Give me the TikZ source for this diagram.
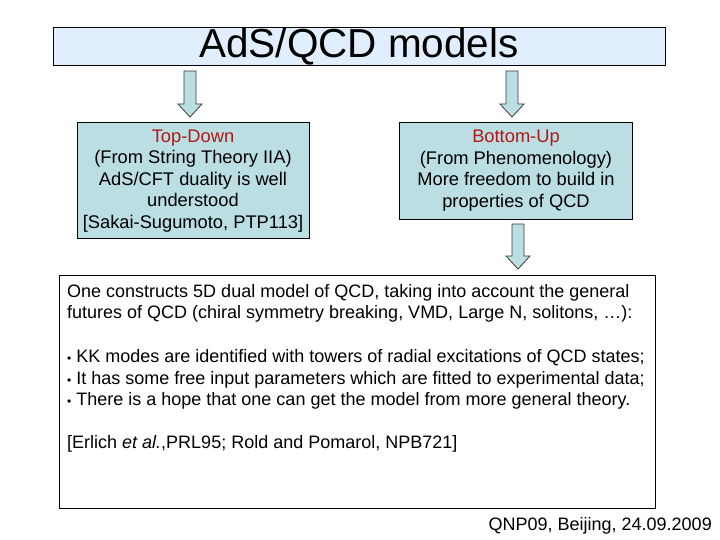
\documentclass[tikz,border=0pt]{standalone}
\usepackage{fontspec}
\setmainfont{Liberation Sans}
\definecolor{titlefill}{RGB}{224,238,254}
\definecolor{boxfill}{RGB}{186,222,226}
\definecolor{headred}{RGB}{178,24,24}
\definecolor{arrowline}{RGB}{60,60,60}
\tikzset{
  bodyfont/.style={font=\fontsize{18.3}{21.6}\selectfont},
  mainfont/.style={font=\fontsize{18}{21.6}\selectfont},
  tealbox/.style={draw=black, line width=1pt, fill=boxfill, inner sep=0pt, anchor=north west},
  blockarrow/.style={draw=arrowline, line width=0.8pt, fill=boxfill, line join=miter},
}
\newcommand{\mybul}{{\fontsize{12}{12}\selectfont\textbullet}}
\begin{document}
\begin{tikzpicture}[x=1pt,y=-1pt]
\useasboundingbox (0,0) rectangle (720,540);
% title
\node[draw=black, line width=1pt, fill=titlefill, anchor=north west, minimum width=612pt, minimum height=38pt, inner sep=0pt] (title) at (53,27) {};
\node[font=\fontsize{40.5}{44}\selectfont] (titletext) at (359,47) {AdS/QCD models};
% boxes
\node[tealbox, minimum width=232pt, minimum height=116pt] (left) at (77,122) {};
\node[bodyfont, align=center] (lefttext) at (193,181) {\textcolor{headred}{Top-Down}\\(From String Theory IIA)\\AdS/CFT duality is well\\understood\\{[}Sakai-Sugumoto, PTP113{]}};
\node[tealbox, minimum width=233pt, minimum height=97pt] (right) at (399,122) {};
\node[bodyfont, align=center] (righttext) at (516,170.5) {\textcolor{headred}{Bottom-Up}\\(From Phenomenology)\\More freedom to build in\\properties of QCD};
% big box
\node[draw=black, line width=1pt, fill=white, anchor=north west, minimum width=596pt, minimum height=233pt, inner sep=0pt] (main) at (59,275) {};
\node[mainfont, align=left, anchor=north west, inner sep=0pt] (maintext) at (67,284) {One constructs 5D dual model of QCD, taking into account the general\\futures of QCD (chiral symmetry breaking, VMD, Large N, solitons, \ldots):\\[22pt]%
\mybul\ KK modes are identified with towers of radial excitations of QCD states;\\
\mybul\ It has some free input parameters which are fitted to experimental data;\\
\mybul\ There is a hope that one can get the model from more general theory.\\[21pt]%
{[}Erlich \textit{et al.},PRL95; Rold and Pomarol, NPB721{]}};
% footer
\node[mainfont, anchor=east, inner sep=0pt] (footer) at (712,526) {QNP09, Beijing, 24.09.2009};
% block arrows
\coordinate (a1) at (190,71);
\coordinate (a2) at (512,71);
\coordinate (a3) at (518,224);
\foreach \c/\len in {a1/46,a2/46,a3/45}{
  \draw[blockarrow] ([xshift=-6pt]\c) -- ([xshift=6pt]\c) -- ([xshift=6pt,yshift=-\len pt+13pt]\c)
    -- ([xshift=12pt,yshift=-\len pt+13pt]\c) -- ([yshift=-\len pt]\c)
    -- ([xshift=-12pt,yshift=-\len pt+13pt]\c) -- ([xshift=-6pt,yshift=-\len pt+13pt]\c) -- cycle;
}
\end{tikzpicture}
\end{document}
